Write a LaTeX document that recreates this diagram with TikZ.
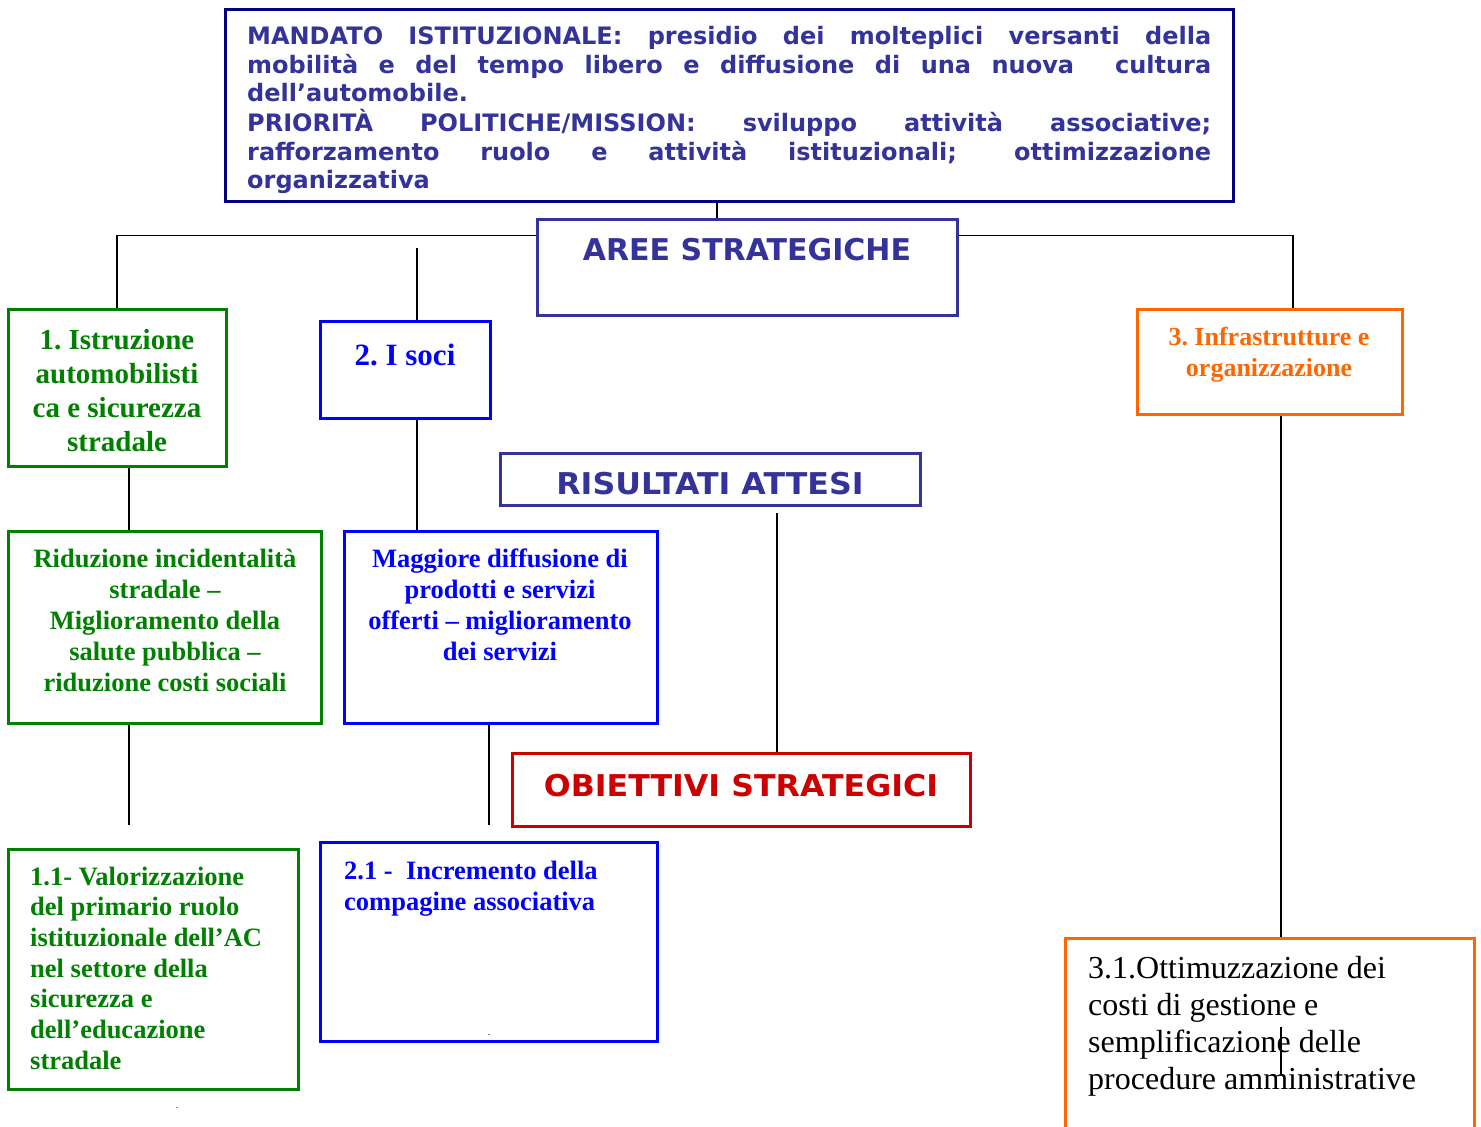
\documentclass[tikz,border=0pt]{standalone}
\usepackage{fontspec}
\setmainfont{Liberation Serif}
\newfontfamily\vsans{DejaVu Sans}
\newfontfamily\vsanswide{DejaVu Sans}[FakeStretch=1.055]
\usetikzlibrary{fit,calc}

\definecolor{navy}{HTML}{000080}
\definecolor{slate}{HTML}{333399}
\definecolor{leaf}{HTML}{008000}
\definecolor{pureblue}{HTML}{0000FF}
\definecolor{tang}{HTML}{FF6600}
\definecolor{crim}{HTML}{CC0000}

% interword glue: stretchable for the justified block, fixed natural width elsewhere
\newcommand\natspace{\spaceskip=0pt\xspaceskip=0pt\relax}
\newcommand\fixspace{\spaceskip=\fontdimen2\font\xspaceskip=\fontdimen2\font\relax}

\tikzset{
  frame/.style={draw=#1, line width=3pt, inner sep=0pt},
  link/.style={draw=black, line width=1.5pt},
  head/.style={font=\vsans\bfseries\fontsize{30}{36}\selectfont, text=slate, inner sep=0pt, anchor=base},
  widehead/.style={head, font=\vsanswide\bfseries\fontsize{30}{36}\selectfont},
  toptext/.style={font=\vsans\bfseries\fontsize{24}{29}\selectfont, text=slate, inner sep=0pt,
    anchor=base west, text width=964pt, align=left, execute at begin node=\natspace},
  ctext/.style={font=\bfseries\fontsize{26.5}{31}\selectfont, inner sep=0pt, anchor=base,
    text width=320pt, align=center, execute at begin node=\fixspace},
  ltext/.style={font=\bfseries\fontsize{26.5}{31}\selectfont, inner sep=0pt, anchor=base west,
    text width=320pt, align=left, execute at begin node=\fixspace},
  tinydot/.style={font=\fontsize{10}{12}\selectfont, inner sep=0pt, anchor=base},
}

\begin{document}
\begin{tikzpicture}[x=1pt,y=-1pt]
\useasboundingbox (0,0) rectangle (1481,1127);
\fill[white] (0,0) rectangle (1481,1127);

% mandate box
\node[frame=navy, fit={(225,9)(1233,201)}] (mandate) {};
\begin{scope}
  \clip (227,11) rectangle (1231,193);
  \node[toptext] (mandatetxt) at (247,44) {%
    \makebox[\linewidth][s]{MANDATO ISTITUZIONALE: presidio dei molteplici versanti della}\\
    \makebox[\linewidth][s]{mobilità e del tempo libero e diffusione di una nuova\ \ cultura}\\
    dell’automobile.\\
    \makebox[\linewidth][s]{PRIORITÀ POLITICHE/MISSION: sviluppo attività associative;}\\
    \makebox[\linewidth][s]{rafforzamento ruolo e attività istituzionali; ottimizzazione}\\
    organizzativa};
\end{scope}

% section headings
\node[frame=slate, fit={(537,219)(957,315)}] (aree) {};
\node[head] (areetxt) at (747,260) {AREE STRATEGICHE};

\node[frame=slate, fit={(500,453)(920,505)}] (risultati) {};
\node[widehead] (risultatitxt) at (710,494) {RISULTATI ATTESI};

\node[frame=crim, fit={(512,753)(970,826)}] (obiettivi) {};
\node[widehead, text=crim] (obiettivitxt) at (741,796) {OBIETTIVI STRATEGICI};

% strategic areas
\node[frame=leaf, fit={(8,309)(226,466)}] (area1) {};
\node[ctext, text=leaf, font=\bfseries\fontsize{29}{34}\selectfont] (area1txt) at (117,349)
  {1. Istruzione\\automobilisti\\ca e sicurezza\\stradale};

\node[frame=pureblue, fit={(320,321)(490,418)}] (area2) {};
\node[ctext, text=pureblue, font=\bfseries\fontsize{31}{36}\selectfont] (area2txt) at (405,365) {2. I soci};

\node[frame=tang, fit={(1137,309)(1402,414)}] (area3) {};
\node[ctext, text=tang, font=\bfseries\fontsize{26}{31}\selectfont] (area3txt) at (1269,345)
  {3. Infrastrutture e\\organizzazione};

% expected results
\node[frame=leaf, fit={(8,531)(321,723)}] (res1) {};
\node[ctext, text=leaf] (res1txt) at (165,567)
  {Riduzione incidentalità\\stradale –\\Miglioramento della\\salute pubblica –\\riduzione costi sociali};

\node[frame=pureblue, fit={(344,531)(657,723)}] (res2) {};
\node[ctext, text=pureblue] (res2txt) at (500,567)
  {Maggiore diffusione di\\prodotti e servizi\\offerti – miglioramento\\dei servizi};

% strategic objectives
\node[frame=leaf, fit={(8,849)(298,1089)}] (obj1) {};
\node[ltext, text=leaf, font=\bfseries\fontsize{26.5}{30.7}\selectfont] (obj1txt) at (30,885)
  {1.1- Valorizzazione\\del primario ruolo\\istituzionale dell’AC\\nel settore della\\sicurezza e\\dell’educazione\\stradale};

\node[frame=pureblue, fit={(320,842)(657,1041)}] (obj2) {};
\node[ltext, text=pureblue] (obj2txt) at (344,879)
  {2.1 -\ \ Incremento della\\compagine associativa};

\node[frame=tang, fit={(1065,938)(1474,1150)}] (obj3) {};
\node[ltext, text=black, font=\fontsize{32}{37}\selectfont, text width=400pt] (obj3txt) at (1088,978)
  {3.1.Ottimuzzazione dei\\costi di gestione e\\semplificazione delle\\procedure amministrative};

\node[tinydot] (dotA) at (489,1035) {.};
\node[tinydot] (dotB) at (177,1108) {.};

% connectors
\draw[link] ([xshift=-30pt]aree.north) -- ([xshift=-30pt]aree.north |- mandate.south);
\draw[link] ([yshift=-18pt]aree.north west) -| (area1.north);
\draw[link] ([yshift=-18pt]aree.north east) -| ([xshift=23.5pt]area3.north);

\coordinate (s2) at (417,248);
\draw[link] (s2) -- (s2 |- area2.north);
\draw[link] (s2 |- area2.south) -- (s2 |- res2.north);

\draw[link] ([xshift=12pt]area1.south) -- ([xshift=12pt]area1.south |- res1.north);

\coordinate (e1) at (129,825);
\draw[link] (e1 |- res1.south) -- (e1);
\coordinate (e2) at (489,825);
\draw[link] (e2 |- res2.south) -- (e2);

\coordinate (s3) at (777,513);
\draw[link] (s3) -- (s3 |- obiettivi.north);

\draw[link] ([xshift=11.5pt]area3.south) -- ([xshift=11.5pt]area3.south |- obj3.north);
\coordinate (m1) at (1281,1027);
\coordinate (m2) at (1281,1075);
\draw[link] (m1) -- (m2);
\end{tikzpicture}
\end{document}
